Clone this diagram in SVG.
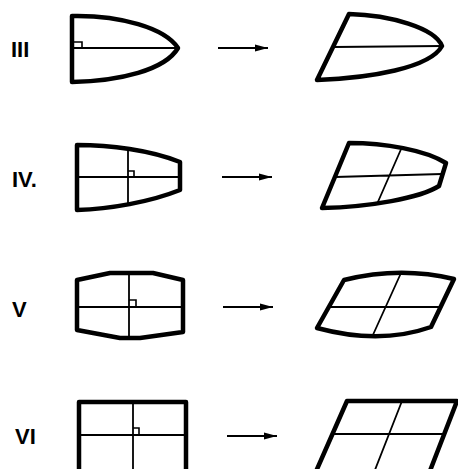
<svg xmlns="http://www.w3.org/2000/svg" width="458" height="469" viewBox="0 0 458 469">
<style>
.bg{fill:#fff}
.outline{fill:none;stroke:#000;stroke-width:4.5;stroke-linejoin:round;stroke-linecap:round}
.inner{fill:none;stroke:#000;stroke-width:1.8;stroke-linecap:butt}
.mark{fill:none;stroke:#000;stroke-width:1.6}
.label{font-family:"Liberation Sans",Arial,sans-serif;font-weight:bold;font-size:22px;fill:#000}
.arrow{fill:none;stroke:#000;stroke-width:2}
</style>
<defs>
<marker id="ah" markerUnits="userSpaceOnUse" markerWidth="14" markerHeight="8" refX="13" refY="4" orient="auto">
<path d="M0,0.6 L13,4 L0,7.4 Z" fill="#000"/>
</marker>
</defs>
<rect class="bg" x="0" y="0" width="458" height="469"/>

<g id="label-III"><text class="label" x="11" y="57">III</text></g>
<g id="label-IV"><text class="label" x="12" y="187">IV.</text></g>
<g id="label-V"><text class="label" x="12" y="317">V</text></g>
<g id="label-VI"><text class="label" x="15" y="444">VI</text></g>

<g id="III-before">
<path class="inner" d="M72,48 L178,48"/>
<path class="mark" d="M73,42 H82 V48"/>
<path class="outline" d="M72,82 L72,16 C120,15 165,28 178,48 C165,70 120,81 72,82 Z"/>
</g>
<g id="III-after">
<path class="inner" d="M334,47 L442,46"/>
<path class="outline" d="M317,80 L349,14 C390,15 435,28 442,46 C430,68 370,78 317,80 Z"/>
</g>

<g id="IV-before">
<path class="inner" d="M77,177 L180,177 M128,147 L128,203"/>
<path class="mark" d="M128,171 H134 V177"/>
<path class="outline" d="M77,210 L77,145 C110,145 150,150 180,162 L180,190 C150,202 110,209 77,210 Z"/>
</g>
<g id="IV-after">
<path class="inner" d="M335,177 L442,174 M402,147 L377,204"/>
<path class="outline" d="M322,208 L349,143 C385,143 425,150 446,163 L439,186 C420,198 370,207 322,208 Z"/>
</g>

<g id="V-before">
<path class="inner" d="M77,307 L183,307 M129,273 L129,338"/>
<path class="mark" d="M129,300 H136 V307"/>
<path class="outline" d="M77,330 L77,280 L110,273 L153,273 L183,280 L183,332 L140,338 L120,338 Z"/>
</g>
<g id="V-after">
<path class="inner" d="M329,307 L441,307 M401,273 L372,337"/>
<path class="outline" d="M317,328 L344,280 Q400,266 454,279 L431,327 Q380,345 317,328 Z"/>
</g>

<g id="VI-before">
<path class="inner" d="M79,435 L186,435 M133,402 L133,475"/>
<path class="mark" d="M133,428 H139 V435"/>
<path class="outline" d="M79,480 L79,402 L186,402 L186,480"/>
</g>
<g id="VI-after">
<path class="inner" d="M333,434 L443,434 M402,401 L373,475"/>
<path class="outline" d="M314,476 L347,401 L457,401 L428,476"/>
</g>

<g id="connectors">
<path class="arrow" marker-end="url(#ah)" d="M218,48 L268,48"/>
<path class="arrow" marker-end="url(#ah)" d="M222,177 L272,177"/>
<path class="arrow" marker-end="url(#ah)" d="M223,307 L273,307"/>
<path class="arrow" marker-end="url(#ah)" d="M227,436 L277,436"/>
</g>
</svg>
